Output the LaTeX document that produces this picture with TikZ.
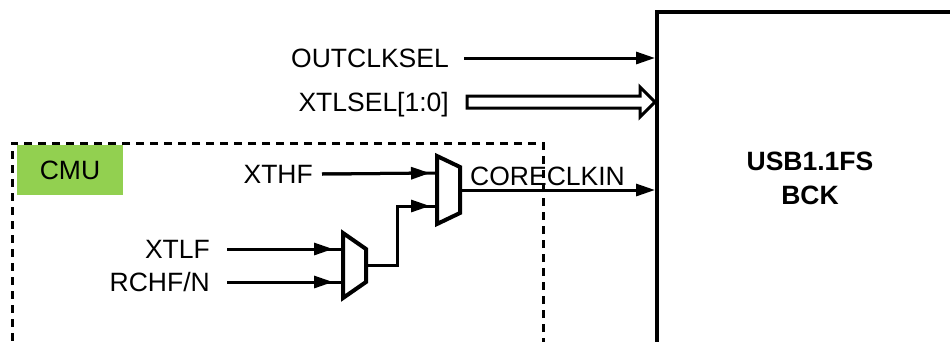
\documentclass[tikz,border=0pt]{standalone}
\usepackage{fontspec}
\setmainfont{Liberation Sans}
\usetikzlibrary{arrows.meta,calc}
\definecolor{cmugreen}{RGB}{146,208,80}
\begin{document}
\begin{tikzpicture}[x=1pt,y=-1pt,
  lab/.style={font=\fontsize{26.5}{30}\selectfont, inner sep=0pt, text height=19pt, text depth=0pt},
  wire/.style={line width=3pt},
  sig/.style={wire, -{Triangle[length=19pt,width=12pt]}},
  muxshape/.style={line width=4pt, line join=miter, fill=white},
  dashbox/.style={line width=3pt, dash pattern=on 8pt off 6pt},
]
\useasboundingbox (0,0) rectangle (950,341);
\begin{scope}
\clip (0,0) rectangle (950,341);
% USB block
\coordinate (usbtl) at (657,12);
\draw[line width=4pt] (usbtl |- 0,360) -- (usbtl) -- (970,12);
\node[font=\fontsize{26.5}{34}\selectfont\bfseries, align=center, inner sep=0pt] (usb) at (810,178) {USB1.1FS\\BCK};
% CMU region
\draw[dashbox] (543,360) -- (543,143) -- (12,143) -- (12,360);
\node[fill=cmugreen, minimum width=106pt, minimum height=50pt, inner sep=0pt, font=\fontsize{26.5}{30}\selectfont] (cmu) at (70,170) {CMU};
% labels
\node[lab, anchor=east] (outclksel) at (449,58) {OUTCLKSEL};
\node[lab, anchor=east] (xtlsel) at (449,102) {XTLSEL[1:0]};
\node[lab, anchor=east] (xthf) at (313,174) {XTHF};
\node[lab, anchor=east] (xtlf) at (210,249) {XTLF};
\node[lab, anchor=east] (rchf) at (210,282) {RCHF/N};
\node[lab, anchor=west] (coreclkin) at (470,176) {CORECLKIN};
% mux coordinates
\coordinate (m2) at (437,156);
\coordinate (m2in1) at (437,173);
\coordinate (m2in2) at (437,206);
\coordinate (m2out) at (460,190);
\coordinate (m1) at (343,233);
\coordinate (m1in1) at (343,249);
\coordinate (m1in2) at (343,282);
\coordinate (m1out) at (366,265);
% top inputs
\draw[sig, shorten >=2pt] ($(outclksel.east)+(15,0)$) -- (outclksel.east -| usbtl);
\coordinate (xs) at ($(xtlsel.east)+(18,0)$);
\coordinate (xe) at ($(xtlsel.east -| usbtl)+(-2,0)$);
\draw[line width=3pt, line join=miter, fill=white]
  ($(xs)+(0,-6)$) -- ($(xe)+(-15,-6)$) -- ($(xe)+(-15,-15)$) -- (xe)
  -- ($(xe)+(-15,15)$) -- ($(xe)+(-15,6)$) -- ($(xs)+(0,6)$) -- cycle;
% mux inputs
\draw[wire] ($(xthf.east)+(9,0)$) -- (m2in1);
\draw[sig, shorten >=7pt] ($(xthf.east)+(9,0)$) -- (m2in1);
\draw[wire] ($(xtlf.east)+(17,0)$) -- (m1in1);
\draw[sig, shorten >=10pt] ($(xtlf.east)+(17,0)$) -- (m1in1);
\draw[wire] ($(rchf.east)+(17,0)$) -- (m1in2);
\draw[sig, shorten >=10pt] ($(rchf.east)+(17,0)$) -- (m1in2);
\draw[wire] (m1out) -- ++(31,0) |- (m2in2);
\draw[sig, shorten >=7pt] ($(m1out)+(31,0)$) |- (m2in2);
% mux output
\draw[sig, shorten >=2pt] (m2out) -- (m2out -| usbtl);
% muxes
\draw[muxshape] (m2) -- ++(23,11) -- ++(0,46) -- ++(-23,11) -- cycle;
\draw[muxshape] (m1) -- ++(23,16) -- ++(0,33) -- ++(-23,16) -- cycle;
\end{scope}
\end{tikzpicture}
\end{document}
